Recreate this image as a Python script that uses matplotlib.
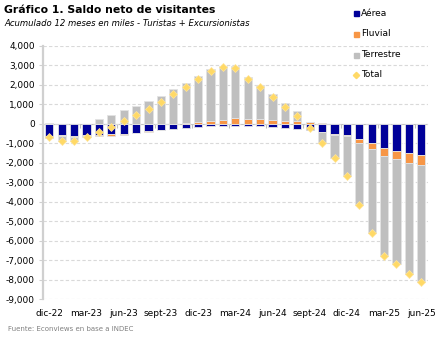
import numpy as np
import matplotlib
matplotlib.use("Agg")
import matplotlib.pyplot as plt
from matplotlib.lines import Line2D

# ── Datos (miles, acumulado 12 meses) ────────────────────────────────────────
meses = ["dic-22", "ene-23", "feb-23", "mar-23", "abr-23", "may-23", "jun-23",
         "jul-23", "ago-23", "sept-23", "oct-23", "nov-23", "dic-23", "ene-24",
         "feb-24", "mar-24", "abr-24", "may-24", "jun-24", "jul-24", "ago-24",
         "sept-24", "oct-24", "nov-24", "dic-24", "ene-25", "feb-25", "mar-25",
         "abr-25", "may-25", "jun-25"]
aerea = [-600, -560, -600, -560, -560, -520, -500, -450, -390, -320, -280,
         -220, -140, -100, -85, -95, -90, -120, -155, -220, -250, -300,
         -420, -510, -570, -780, -1000, -1230, -1390, -1510, -1610]
fluvial = [-110, -80, -100, -90, -90, -90, -50, -35, -20, -10, 10, 60, 110,
           165, 205, 300, 255, 255, 205, 160, 130, 95, 20, -60, -70, -205,
           -310, -400, -430, -500, -515]
terrestre = [20, -220, -180, -30, 230, 460, 715, 940, 1160, 1445, 1780, 2060,
             2340, 2635, 2785, 2690, 2130, 1745, 1335, 900, 505, 0, -570,
             -1200, -2030, -3175, -4310, -5150, -5370, -5700, -5995]
total = [-690, -860, -880, -680, -420, -160, 160, 450, 750, 1115, 1510, 1900,
         2310, 2700, 2905, 2895, 2295, 1880, 1385, 840, 385, -205, -970,
         -1770, -2670, -4160, -5620, -6780, -7190, -7710, -8120]

C_AER, C_FLU, C_TER, C_TOT = "#000099", "#F79646", "#BFBFBF", "#FFD966"
GRID = "#D9D9D9"

W, H = 443, 340
fig = plt.figure(figsize=(W / 100, H / 100), dpi=100)
ax = fig.add_axes([43.1 / W, 41 / H, 384.4 / W, 253 / H])

x = np.arange(len(meses))
pos = np.zeros(len(x))
neg = np.zeros(len(x))
for vals, col in [(aerea, C_AER), (fluvial, C_FLU), (terrestre, C_TER)]:
    v = np.array(vals, dtype=float)
    base = np.where(v >= 0, pos, neg)
    ax.bar(x, v, bottom=base, width=0.66, color=col, edgecolor="#E3E3E3",
           linewidth=0.6, zorder=2)
    pos = pos + np.where(v >= 0, v, 0)
    neg = neg + np.where(v < 0, v, 0)
ax.plot(x, total, ls="none", marker="D", ms=4.0, color=C_TOT,
        mec="#FFE59A", mew=0.5, zorder=4)

ax.set_xlim(-0.5, len(x) - 0.5)
ax.set_ylim(-9000, 4000)
yt = list(range(-9000, 4001, 1000))
ax.set_yticks(yt)
ax.set_yticklabels([f"{v:,}" for v in yt])
ax.yaxis.grid(True, ls=(0, (3, 2)), color=GRID, lw=0.8, zorder=0)
ax.set_axisbelow(True)
for s in ["top", "right", "bottom"]:
    ax.spines[s].set_visible(False)
ax.spines["left"].set_color("#D0D0D0")
ax.spines["left"].set_linewidth(1.6)
ax.tick_params(axis="y", length=3, width=0.8, color="#D0D0D0",
               labelsize=6.5, pad=3)
ax.set_xticks(x[::3])
ax.set_xticklabels(meses[::3])
ax.tick_params(axis="x", length=0, labelsize=6.5, pad=7.5)

# eje horizontal en cero con marcas cada 3 meses
sec = ax.secondary_xaxis(9000 / 13000)
sec.set_xticks(np.arange(-0.5, len(x), 3))
sec.set_xticklabels([])
sec.tick_params(direction="in", length=3, width=0.8, color="#BFBFBF")
for s in sec.spines.values():
    s.set_color("#BFBFBF")
    s.set_linewidth(0.8)

# ── Títulos ──────────────────────────────────────────────────────────────────
fig.text(4 / W, 1 - 10 / H, "Gráfico 1. Saldo neto de visitantes",
         fontsize=7.8, weight="bold", va="center", ha="left")
fig.text(4 / W, 1 - 23.5 / H,
         "Acumulado 12 meses en miles - Turistas + Excursionistas",
         fontsize=6.1, style="italic", va="center", ha="left")
fig.text(8 / W, 1 - 329 / H, "Fuente: Econviews en base a INDEC",
         fontsize=5, color="#808080", va="center", ha="left")

# ── Leyenda ──────────────────────────────────────────────────────────────────
leg = [("Aérea", C_AER, "s", 13.3), ("Fluvial", C_FLU, "s", 34),
       ("Terrestre", C_TER, "s", 54.7), ("Total", C_TOT, "D", 74.6)]
for lab, col, mk, yy in leg:
    fig.add_artist(Line2D([356 / W], [1 - yy / H], marker=mk,
                          ms=3.6 if mk == "s" else 3.2, color=col, ls="none",
                          transform=fig.transFigure))
    fig.text(361 / W, 1 - yy / H, lab, fontsize=6.5, va="center", ha="left")

fig.savefig("out.png", dpi=100)
